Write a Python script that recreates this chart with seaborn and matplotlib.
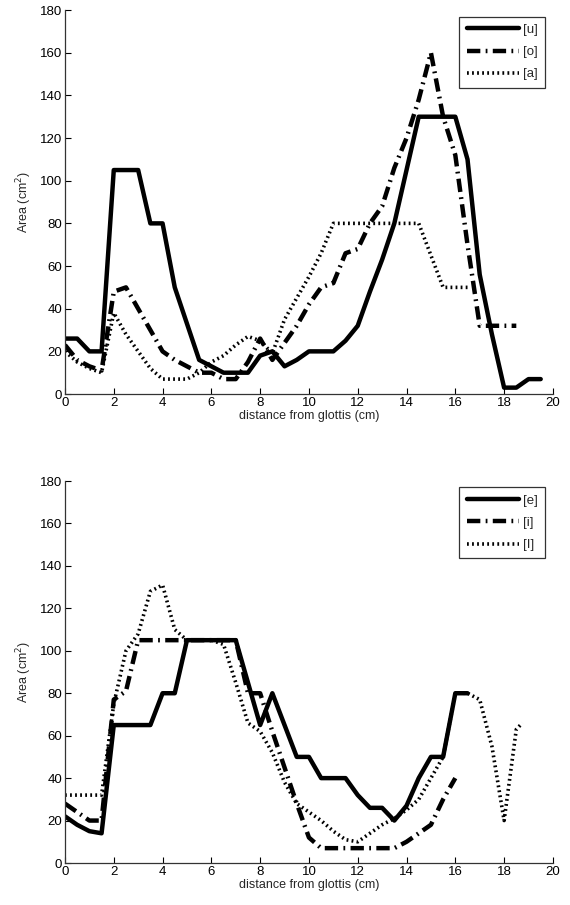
import numpy as np
import pandas as pd
import matplotlib
matplotlib.use("Agg")
import matplotlib.pyplot as plt
import seaborn as sns

# back vowels (top panel)
x_u = [0, 0.5, 1, 1.5, 2, 2.5, 3, 3.5, 4, 4.5, 5, 5.5, 6, 6.5, 7, 7.5, 8, 8.5, 9, 9.5,
       10, 10.5, 11, 11.5, 12, 12.5, 13, 13.5, 14, 14.5, 15, 15.5, 16, 16.5, 17, 17.5,
       18, 18.5, 19, 19.5]
area_u = [26, 26, 20, 20, 105, 105, 105, 80, 80, 50, 33, 16, 13, 10, 10, 10, 18, 20, 13, 16,
          20, 20, 20, 25, 32, 48, 63, 80, 105, 130, 130, 130, 130, 110, 56, 28,
          3, 3, 7, 7]

x_o = [0, 0.5, 1, 1.5, 2, 2.5, 3, 3.5, 4, 4.5, 5, 5.5, 6, 6.5, 7, 7.5, 8, 8.5, 9, 9.5,
       10, 10.5, 11, 11.5, 12, 12.5, 13, 13.5, 14, 14.5, 15, 15.5, 16, 16.5, 17, 17.5,
       18, 18.5]
area_o = [23, 16, 13, 11, 48, 50, 40, 30, 20, 16, 13, 10, 10, 7, 7, 15, 26, 16, 24, 32,
          42, 50, 52, 66, 68, 80, 88, 106, 120, 138, 160, 130, 112, 70, 32, 32,
          32, 32]

x_a = [0, 0.5, 1, 1.5, 2, 2.5, 3, 3.5, 4, 4.5, 5, 5.5, 6, 6.5, 7, 7.5, 8, 8.5, 9, 9.5,
       10, 10.5, 11, 11.5, 12, 12.5, 13, 13.5, 14, 14.5, 15, 15.5, 16, 16.5]
area_a = [20, 15, 12, 10, 38, 28, 20, 12, 7, 7, 7, 10, 15, 18, 23, 27, 25, 19, 35, 45,
          55, 66, 80, 80, 80, 80, 80, 80, 80, 80, 65, 50, 50, 50]

# front vowels (bottom panel)
x_e = [0, 0.5, 1, 1.5, 2, 2.5, 3, 3.5, 4, 4.5, 5, 5.5, 6, 6.5, 7, 7.5, 8, 8.5, 9, 9.5,
       10, 10.5, 11, 11.5, 12, 12.5, 13, 13.5, 14, 14.5, 15, 15.5, 16, 16.5]
area_e = [22, 18, 15, 14, 65, 65, 65, 65, 80, 80, 105, 105, 105, 105, 105, 85, 65, 80, 65, 50,
          50, 40, 40, 40, 32, 26, 26, 20, 27, 40, 50, 50, 80, 80]

x_i = [0, 0.5, 1, 1.5, 2, 2.5, 3, 3.5, 4, 4.5, 5, 5.5, 6, 6.5, 7, 7.5, 8, 8.5, 9, 9.5,
       10, 10.5, 11, 11.5, 12, 12.5, 13, 13.5, 14, 14.5, 15, 15.5, 16]
area_i = [28, 24, 20, 20, 77, 81, 105, 105, 105, 105, 105, 105, 105, 105, 105, 80, 80, 62, 45, 28,
          12, 7, 7, 7, 7, 7, 7, 7, 10, 14, 18, 30, 40]

x_I = [0, 0.5, 1, 1.5, 2, 2.5, 3, 3.5, 4, 4.5, 5, 5.5, 6, 6.5, 7, 7.5, 8, 8.5, 9, 9.5,
       10, 10.5, 11, 11.5, 12, 12.5, 13, 13.5, 14, 14.5, 15, 15.5, 16, 16.5, 17, 17.5,
       18, 18.5, 18.75]
area_I = [32, 32, 32, 32, 75, 100, 108, 128, 131, 110, 105, 105, 105, 103, 85, 66, 62, 52, 38, 28,
          24, 20, 15, 11, 10, 14, 18, 21, 25, 30, 40, 50, 80, 80, 77, 55,
          20, 63, 66]

top_labels = ["[u]", "[o]", "[a]"]
bottom_labels = ["[e]", "[i]", "[I]"]
yticks = [0, 20, 40, 60, 80, 100, 120, 140, 160, 180]
xticks = [0, 2, 4, 6, 8, 10, 12, 14, 16, 18, 20]

sns.set_style("white")
plt.rcParams['font.family'] = ['Liberation Sans', 'DejaVu Sans']
plt.rcParams['font.size'] = 9

styles = [
    dict(linestyle='-', linewidth=3.2),
    dict(linestyle=(0, (3.0, 1.2, 0.4, 1.2)), linewidth=3.2),
    dict(linestyle=(0, (0.5, 0.9)), linewidth=2.6),
]

fig = plt.figure(figsize=(5.7, 9.05), dpi=100)
ax1 = fig.add_axes([0.114, 0.5646, 0.856, 0.4243])
ax2 = fig.add_axes([0.114, 0.0464, 0.856, 0.4221])


def draw_panel(ax, series, labels):
    for (xs, ys), lab, st in zip(series, labels, styles):
        df = pd.DataFrame({'x': xs, 'y': ys})
        sns.lineplot(data=df, x='x', y='y', ax=ax, color='black', label=lab,
                     estimator=None, sort=False, **st)
    ax.set_xlim(0, 20)
    ax.set_ylim(0, 180)
    ax.set_xticks(xticks)
    ax.set_yticks(yticks)
    ax.set_xlabel('distance from glottis (cm)', fontsize=9, labelpad=1)
    ax.set_ylabel('Area (cm$^2$)', fontsize=9, labelpad=4)
    ax.tick_params(direction='in', length=4, width=0.8, labelsize=9.5, pad=2,
                   bottom=True, left=True, colors='black')
    for side in ['top', 'right']:
        ax.spines[side].set_visible(False)
    for side in ['left', 'bottom']:
        ax.spines[side].set_color('#333333')
        ax.spines[side].set_linewidth(0.9)
    leg = ax.legend(loc='upper right', bbox_to_anchor=(0.99, 0.99), frameon=True,
                    fancybox=False, edgecolor='black', fontsize=9.5, handlelength=4.0,
                    handletextpad=0.3, borderpad=0.55, labelspacing=0.75,
                    borderaxespad=0.2)
    leg.get_frame().set_linewidth(0.9)


draw_panel(ax1, [(x_u, area_u), (x_o, area_o), (x_a, area_a)], top_labels)
draw_panel(ax2, [(x_e, area_e), (x_i, area_i), (x_I, area_I)], bottom_labels)

fig.savefig('out.png', dpi=100)
